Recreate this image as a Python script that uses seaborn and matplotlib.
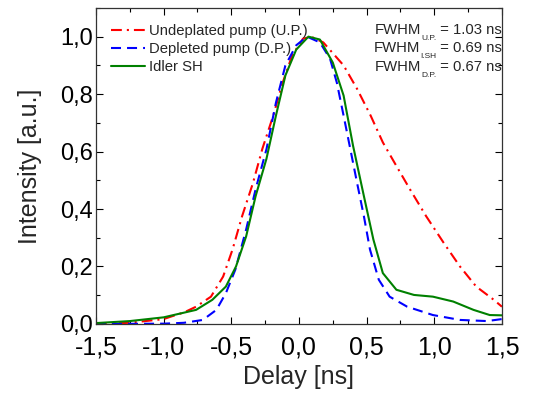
import matplotlib
matplotlib.use('Agg')
import matplotlib.pyplot as plt
from matplotlib.ticker import MultipleLocator, FuncFormatter
from matplotlib.transforms import offset_copy
import seaborn as sns

# delay [ns] / normalised intensity
t_up = [-1.5, -1.25, -1.0, -0.93, -0.85, -0.76, -0.65, -0.56, -0.49, -0.42, -0.34, -0.27,
        -0.19, -0.12, -0.05, 0.03, 0.09, 0.18, 0.33, 0.43, 0.53, 0.62, 0.72, 0.82, 0.94,
        1.07, 1.19, 1.31, 1.44, 1.5]
i_up = [0.0, 0.004, 0.017, 0.028, 0.04, 0.06, 0.095, 0.165, 0.26, 0.375, 0.49, 0.61,
        0.725, 0.84, 0.935, 0.993, 1.0, 0.98, 0.90, 0.818, 0.725, 0.632, 0.55, 0.469, 0.375,
        0.282, 0.20, 0.13, 0.084, 0.06]

t_dp = [-1.5, -1.0, -0.85, -0.71, -0.61, -0.54, -0.47, -0.39, -0.32, -0.24, -0.17, -0.10,
        -0.02, 0.06, 0.155, 0.23, 0.28, 0.33, 0.38, 0.43, 0.48, 0.525, 0.59, 0.67, 0.80,
        0.99, 1.19, 1.39, 1.5]
i_dp = [0.0, 0.001, 0.004, 0.014, 0.049, 0.107, 0.189, 0.329, 0.469, 0.608, 0.77, 0.90,
        0.97, 1.0, 0.98, 0.923, 0.84, 0.725, 0.608, 0.49, 0.375, 0.259, 0.154, 0.095, 0.06,
        0.031, 0.014, 0.01, 0.017]

t_sh = [-1.5, -1.25, -1.0, -0.76, -0.64, -0.54, -0.465, -0.39, -0.32, -0.24, -0.17, -0.10,
        -0.02, 0.07, 0.155, 0.25, 0.33, 0.40, 0.48, 0.55, 0.62, 0.72, 0.85, 0.99, 1.14,
        1.29, 1.41, 1.5]
i_sh = [0.003, 0.01, 0.023, 0.049, 0.084, 0.13, 0.20, 0.305, 0.445, 0.575, 0.725, 0.865,
        0.955, 1.0, 0.99, 0.91, 0.795, 0.62, 0.445, 0.294, 0.177, 0.119, 0.101, 0.095, 0.078,
        0.049, 0.031, 0.03]

labels = ["Undeplated pump (U.P.)", "Depleted pump (D.P.)", "Idler SH"]
fwhm_sub = ["U.P.", "I.SH", "D.P."]
fwhm_val = ["1.03", "0.69", "0.67"]

sns.set_style("ticks")
plt.rcParams['font.family'] = ['Liberation Sans', 'DejaVu Sans']

fig = plt.figure(figsize=(5.45, 3.97), dpi=100)
ax = fig.add_axes([0.176, 0.184, 0.745, 0.796])

sns.lineplot(x=t_up, y=i_up, ax=ax, color='red', lw=1.5, label=labels[0],
             linestyle=(0, (5.2, 2.4, 1.0, 2.4)))
sns.lineplot(x=t_dp, y=i_dp, ax=ax, color='blue', lw=1.5, label=labels[1],
             linestyle=(0, (4.8, 2.9)))
sns.lineplot(x=t_sh, y=i_sh, ax=ax, color='green', lw=1.5, label=labels[2])

ax.set_xlim(-1.5, 1.5)
ax.set_ylim(0, 1.1)
ax.xaxis.set_major_locator(MultipleLocator(0.5))
ax.xaxis.set_minor_locator(MultipleLocator(0.25))
ax.yaxis.set_major_locator(MultipleLocator(0.2))
ax.yaxis.set_minor_locator(MultipleLocator(0.1))
comma = FuncFormatter(lambda v, p: ("%.1f" % v).replace('.', ','))
ax.xaxis.set_major_formatter(comma)
ax.yaxis.set_major_formatter(comma)
ax.tick_params(which='both', direction='in', top=True, right=True, colors='black',
               width=0.8)
ax.tick_params(which='major', length=5)
ax.tick_params(axis='x', which='major', pad=8, labelsize=18)
ax.tick_params(axis='y', which='major', pad=2, labelsize=17)
ax.tick_params(which='minor', length=3)
for s in ax.spines.values():
    s.set_color('#333333')
    s.set_linewidth(0.9)

ax.set_xlabel("Delay [ns]", fontsize=18, labelpad=4)
ax.set_ylabel("Intensity [a.u.]", fontsize=18, labelpad=13)

ax.legend(loc='upper left', frameon=False, fontsize=10.7, handlelength=2.3,
          handletextpad=0.27, labelspacing=0.25, borderpad=0, borderaxespad=0,
          bbox_to_anchor=(0.037, 0.948))

# FWHM annotations with small, lowered subscripts
renderer = fig.canvas.get_renderer()
for k in range(3):
    y = 0.917 - k * 0.058
    t1 = ax.text(1.0, y, " = %s ns" % fwhm_val[k], transform=ax.transAxes,
                 ha='right', va='baseline', fontsize=10.7)
    w1 = t1.get_window_extent(renderer).width
    tr = offset_copy(ax.transAxes, fig=fig, x=-w1, y=-6, units='dots')
    t2 = ax.text(1.0, y, fwhm_sub[k], transform=tr, ha='right', va='baseline', fontsize=6)
    w2 = t2.get_window_extent(renderer).width
    tr2 = offset_copy(ax.transAxes, fig=fig, x=-w1 - w2, y=0, units='dots')
    ax.text(1.0, y, "FWHM", transform=tr2, ha='right', va='baseline', fontsize=10.7)

plt.savefig("out.png", dpi=100)
plt.close()
